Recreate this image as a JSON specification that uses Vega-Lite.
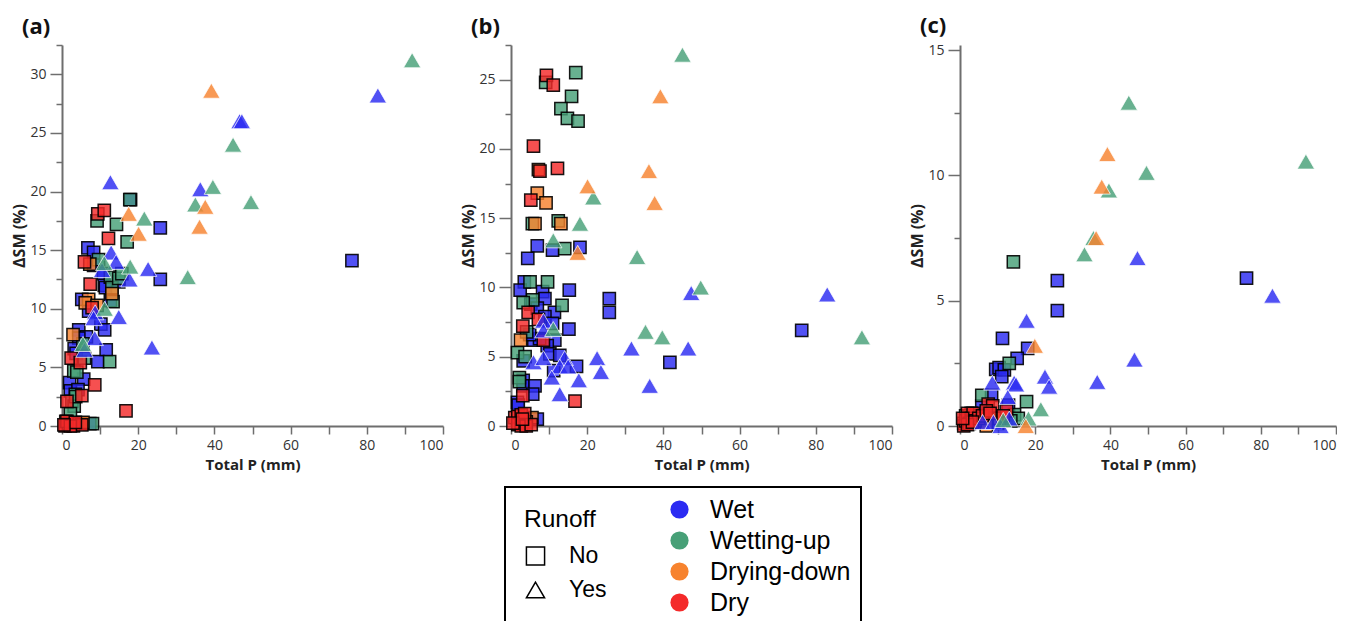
{
 "$schema": "https://vega.github.io/schema/vega-lite/v6.json",
 "padding": {"left": 11, "top": 15, "right": 0, "bottom": 0},
 "bounds": "flush",
 "spacing": 68,
 "datasets": {
  "a": [
   {"P":76.1,"SM":14.1,"R":"No","C":"Wet"},{"P":25.8,"SM":16.9,"R":"No","C":"Wet"},{"P":25.8,"SM":12.5,"R":"No","C":"Wet"},{"P":6.8,"SM":15.2,"R":"No","C":"Wet"},{"P":8.3,"SM":14.8,"R":"No","C":"Wet"},{"P":8.3,"SM":13.7,"R":"No","C":"Wet"},{"P":10.9,"SM":13.0,"R":"No","C":"Wet"},{"P":11.1,"SM":12.0,"R":"No","C":"Wet"},{"P":11.4,"SM":11.8,"R":"No","C":"Wet"},{"P":14.9,"SM":12.3,"R":"No","C":"Wet"},{"P":12.7,"SM":10.7,"R":"No","C":"Wet"},{"P":5.2,"SM":10.8,"R":"No","C":"Wet"},{"P":7.0,"SM":9.8,"R":"No","C":"Wet"},{"P":10.2,"SM":8.7,"R":"No","C":"Wet"},{"P":11.2,"SM":8.2,"R":"No","C":"Wet"},{"P":4.4,"SM":8.2,"R":"No","C":"Wet"},{"P":6.4,"SM":7.6,"R":"No","C":"Wet"},{"P":4.4,"SM":7.5,"R":"No","C":"Wet"},{"P":3.2,"SM":6.6,"R":"No","C":"Wet"},{"P":11.6,"SM":6.5,"R":"No","C":"Wet"},{"P":9.4,"SM":5.5,"R":"No","C":"Wet"},{"P":2.0,"SM":3.7,"R":"No","C":"Wet"},{"P":5.7,"SM":4.0,"R":"No","C":"Wet"},{"P":2.2,"SM":3.0,"R":"No","C":"Wet"},{"P":4.2,"SM":3.1,"R":"No","C":"Wet"},{"P":18.0,"SM":19.3,"R":"No","C":"Wet"},{"P":5.0,"SM":0.2,"R":"No","C":"Wet"},{"P":7.3,"SM":0.2,"R":"No","C":"Wet"},{"P":3.7,"SM":6.2,"R":"No","C":"Wet"},
   {"P":17.8,"SM":19.3,"R":"No","C":"Wetting-up"},{"P":9.2,"SM":17.5,"R":"No","C":"Wetting-up"},{"P":14.3,"SM":17.2,"R":"No","C":"Wetting-up"},{"P":17.1,"SM":15.7,"R":"No","C":"Wetting-up"},{"P":9.6,"SM":14.2,"R":"No","C":"Wetting-up"},{"P":12.7,"SM":12.7,"R":"No","C":"Wetting-up"},{"P":13.1,"SM":11.8,"R":"No","C":"Wetting-up"},{"P":14.9,"SM":12.6,"R":"No","C":"Wetting-up"},{"P":15.7,"SM":13.0,"R":"No","C":"Wetting-up"},{"P":13.4,"SM":10.6,"R":"No","C":"Wetting-up"},{"P":5.5,"SM":7.0,"R":"No","C":"Wetting-up"},{"P":5.9,"SM":5.8,"R":"No","C":"Wetting-up"},{"P":12.5,"SM":5.5,"R":"No","C":"Wetting-up"},{"P":3.1,"SM":4.7,"R":"No","C":"Wetting-up"},{"P":3.9,"SM":4.6,"R":"No","C":"Wetting-up"},{"P":3.5,"SM":2.7,"R":"No","C":"Wetting-up"},{"P":2.6,"SM":2.1,"R":"No","C":"Wetting-up"},{"P":3.2,"SM":1.7,"R":"No","C":"Wetting-up"},{"P":2.2,"SM":1.05,"R":"No","C":"Wetting-up"},{"P":8.0,"SM":0.2,"R":"No","C":"Wetting-up"},{"P":3.6,"SM":2.5,"R":"No","C":"Wetting-up"},
   {"P":7.3,"SM":13.8,"R":"No","C":"Drying-down"},{"P":13.1,"SM":11.3,"R":"No","C":"Drying-down"},{"P":7.0,"SM":10.8,"R":"No","C":"Drying-down"},{"P":6.1,"SM":10.5,"R":"No","C":"Drying-down"},{"P":9.2,"SM":10.3,"R":"No","C":"Drying-down"},{"P":2.9,"SM":7.8,"R":"No","C":"Drying-down"},{"P":1.0,"SM":0.4,"R":"No","C":"Drying-down"},{"P":2.0,"SM":0.2,"R":"No","C":"Drying-down"},{"P":5.5,"SM":0.3,"R":"No","C":"Drying-down"},
   {"P":9.4,"SM":18.1,"R":"No","C":"Dry"},{"P":11.1,"SM":18.4,"R":"No","C":"Dry"},{"P":12.2,"SM":16.0,"R":"No","C":"Dry"},{"P":5.9,"SM":14.0,"R":"No","C":"Dry"},{"P":7.4,"SM":12.1,"R":"No","C":"Dry"},{"P":7.9,"SM":10.1,"R":"No","C":"Dry"},{"P":2.4,"SM":5.8,"R":"No","C":"Dry"},{"P":4.8,"SM":5.4,"R":"No","C":"Dry"},{"P":8.6,"SM":3.5,"R":"No","C":"Dry"},{"P":5.2,"SM":2.6,"R":"No","C":"Dry"},{"P":1.3,"SM":2.1,"R":"No","C":"Dry"},{"P":16.8,"SM":1.3,"R":"No","C":"Dry"},{"P":0.8,"SM":0.0,"R":"No","C":"Dry"},{"P":1.7,"SM":0.2,"R":"No","C":"Dry"},{"P":2.9,"SM":0.2,"R":"No","C":"Dry"},{"P":3.0,"SM":0.0,"R":"No","C":"Dry"},{"P":5.2,"SM":0.1,"R":"No","C":"Dry"},{"P":1.3,"SM":0.4,"R":"No","C":"Dry"},{"P":2.2,"SM":0.0,"R":"No","C":"Dry"},{"P":3.5,"SM":0.3,"R":"No","C":"Dry"},{"P":0.5,"SM":0.1,"R":"No","C":"Dry"},
   {"P":82.9,"SM":28.2,"R":"Yes","C":"Wet"},{"P":46.6,"SM":26.0,"R":"Yes","C":"Wet"},{"P":47.2,"SM":26.0,"R":"Yes","C":"Wet"},{"P":12.7,"SM":20.8,"R":"Yes","C":"Wet"},{"P":36.3,"SM":20.2,"R":"Yes","C":"Wet"},{"P":12.9,"SM":14.8,"R":"Yes","C":"Wet"},{"P":14.2,"SM":14.0,"R":"Yes","C":"Wet"},{"P":10.5,"SM":13.3,"R":"Yes","C":"Wet"},{"P":22.6,"SM":13.4,"R":"Yes","C":"Wet"},{"P":17.7,"SM":12.5,"R":"Yes","C":"Wet"},{"P":8.7,"SM":9.7,"R":"Yes","C":"Wet"},{"P":8.3,"SM":9.2,"R":"Yes","C":"Wet"},{"P":14.9,"SM":9.3,"R":"Yes","C":"Wet"},{"P":8.6,"SM":7.5,"R":"Yes","C":"Wet"},{"P":23.6,"SM":6.7,"R":"Yes","C":"Wet"},{"P":5.9,"SM":6.5,"R":"Yes","C":"Wet"},
   {"P":91.9,"SM":31.2,"R":"Yes","C":"Wetting-up"},{"P":44.9,"SM":24.0,"R":"Yes","C":"Wetting-up"},{"P":39.6,"SM":20.4,"R":"Yes","C":"Wetting-up"},{"P":35.0,"SM":18.9,"R":"Yes","C":"Wetting-up"},{"P":49.6,"SM":19.1,"R":"Yes","C":"Wetting-up"},{"P":21.6,"SM":17.7,"R":"Yes","C":"Wetting-up"},{"P":11.1,"SM":13.9,"R":"Yes","C":"Wetting-up"},{"P":17.9,"SM":13.6,"R":"Yes","C":"Wetting-up"},{"P":33.0,"SM":12.7,"R":"Yes","C":"Wetting-up"},{"P":11.2,"SM":10.0,"R":"Yes","C":"Wetting-up"},{"P":5.5,"SM":7.0,"R":"Yes","C":"Wetting-up"},
   {"P":39.2,"SM":28.6,"R":"Yes","C":"Drying-down"},{"P":37.6,"SM":18.7,"R":"Yes","C":"Drying-down"},{"P":17.5,"SM":18.1,"R":"Yes","C":"Drying-down"},{"P":20.1,"SM":16.4,"R":"Yes","C":"Drying-down"},{"P":36.1,"SM":17.0,"R":"Yes","C":"Drying-down"}
  ],
  "b": [
   {"P":76.3,"SM":6.9,"R":"No","C":"Wet"},{"P":41.7,"SM":4.6,"R":"No","C":"Wet"},{"P":25.8,"SM":9.2,"R":"No","C":"Wet"},{"P":25.8,"SM":8.2,"R":"No","C":"Wet"},{"P":6.9,"SM":13.0,"R":"No","C":"Wet"},{"P":18.1,"SM":12.9,"R":"No","C":"Wet"},{"P":10.9,"SM":12.7,"R":"No","C":"Wet"},{"P":4.4,"SM":12.1,"R":"No","C":"Wet"},{"P":3.5,"SM":10.4,"R":"No","C":"Wet"},{"P":2.4,"SM":9.8,"R":"No","C":"Wet"},{"P":8.3,"SM":9.7,"R":"No","C":"Wet"},{"P":15.3,"SM":9.8,"R":"No","C":"Wet"},{"P":8.9,"SM":9.2,"R":"No","C":"Wet"},{"P":5.2,"SM":8.8,"R":"No","C":"Wet"},{"P":6.9,"SM":8.5,"R":"No","C":"Wet"},{"P":11.4,"SM":8.2,"R":"No","C":"Wet"},{"P":8.9,"SM":7.9,"R":"No","C":"Wet"},{"P":10.9,"SM":7.4,"R":"No","C":"Wet"},{"P":15.2,"SM":7.0,"R":"No","C":"Wet"},{"P":6.0,"SM":6.2,"R":"No","C":"Wet"},{"P":11.5,"SM":6.2,"R":"No","C":"Wet"},{"P":9.5,"SM":5.8,"R":"No","C":"Wet"},{"P":10.2,"SM":5.2,"R":"No","C":"Wet"},{"P":12.8,"SM":5.1,"R":"No","C":"Wet"},{"P":3.2,"SM":4.7,"R":"No","C":"Wet"},{"P":17.2,"SM":4.3,"R":"No","C":"Wet"},{"P":3.2,"SM":3.3,"R":"No","C":"Wet"},{"P":3.2,"SM":2.9,"R":"No","C":"Wet"},{"P":6.3,"SM":2.9,"R":"No","C":"Wet"},{"P":5.7,"SM":2.3,"R":"No","C":"Wet"},{"P":1.7,"SM":1.7,"R":"No","C":"Wet"},{"P":1.9,"SM":1.5,"R":"No","C":"Wet"},{"P":6.9,"SM":0.5,"R":"No","C":"Wet"},{"P":7.5,"SM":6.3,"R":"No","C":"Wet"},{"P":4.9,"SM":6.6,"R":"No","C":"Wet"},{"P":11.2,"SM":4.0,"R":"No","C":"Wet"},
   {"P":17.0,"SM":25.5,"R":"No","C":"Wetting-up"},{"P":9.1,"SM":24.8,"R":"No","C":"Wetting-up"},{"P":15.9,"SM":23.8,"R":"No","C":"Wetting-up"},{"P":13.1,"SM":22.9,"R":"No","C":"Wetting-up"},{"P":14.8,"SM":22.2,"R":"No","C":"Wetting-up"},{"P":17.6,"SM":22.0,"R":"No","C":"Wetting-up"},{"P":5.6,"SM":14.6,"R":"No","C":"Wetting-up"},{"P":12.4,"SM":14.8,"R":"No","C":"Wetting-up"},{"P":14.1,"SM":12.8,"R":"No","C":"Wetting-up"},{"P":5.0,"SM":10.4,"R":"No","C":"Wetting-up"},{"P":9.6,"SM":10.4,"R":"No","C":"Wetting-up"},{"P":5.7,"SM":9.1,"R":"No","C":"Wetting-up"},{"P":3.2,"SM":8.9,"R":"No","C":"Wetting-up"},{"P":13.4,"SM":8.7,"R":"No","C":"Wetting-up"},{"P":4.1,"SM":6.8,"R":"No","C":"Wetting-up"},{"P":1.7,"SM":5.3,"R":"No","C":"Wetting-up"},{"P":3.7,"SM":5.0,"R":"No","C":"Wetting-up"},{"P":2.2,"SM":3.5,"R":"No","C":"Wetting-up"},{"P":2.2,"SM":3.2,"R":"No","C":"Wetting-up"},
   {"P":7.2,"SM":18.5,"R":"No","C":"Drying-down"},{"P":6.9,"SM":16.8,"R":"No","C":"Drying-down"},{"P":9.2,"SM":16.1,"R":"No","C":"Drying-down"},{"P":6.3,"SM":14.6,"R":"No","C":"Drying-down"},{"P":13.1,"SM":14.6,"R":"No","C":"Drying-down"},{"P":2.5,"SM":6.2,"R":"No","C":"Drying-down"},{"P":5.5,"SM":0.6,"R":"No","C":"Drying-down"},{"P":4.0,"SM":0.3,"R":"No","C":"Drying-down"},
   {"P":9.3,"SM":25.3,"R":"No","C":"Dry"},{"P":11.1,"SM":24.6,"R":"No","C":"Dry"},{"P":5.9,"SM":20.2,"R":"No","C":"Dry"},{"P":7.6,"SM":18.4,"R":"No","C":"Dry"},{"P":12.2,"SM":18.6,"R":"No","C":"Dry"},{"P":5.2,"SM":16.3,"R":"No","C":"Dry"},{"P":4.5,"SM":8.2,"R":"No","C":"Dry"},{"P":7.2,"SM":7.7,"R":"No","C":"Dry"},{"P":3.1,"SM":7.2,"R":"No","C":"Dry"},{"P":8.5,"SM":6.2,"R":"No","C":"Dry"},{"P":3.1,"SM":2.2,"R":"No","C":"Dry"},{"P":16.8,"SM":1.8,"R":"No","C":"Dry"},{"P":1.0,"SM":0.6,"R":"No","C":"Dry"},{"P":1.8,"SM":0.7,"R":"No","C":"Dry"},{"P":2.7,"SM":0.8,"R":"No","C":"Dry"},{"P":3.6,"SM":0.9,"R":"No","C":"Dry"},{"P":1.8,"SM":0.1,"R":"No","C":"Dry"},{"P":2.7,"SM":0.0,"R":"No","C":"Dry"},{"P":4.0,"SM":0.0,"R":"No","C":"Dry"},{"P":5.3,"SM":0.1,"R":"No","C":"Dry"},{"P":0.5,"SM":0.2,"R":"No","C":"Dry"},{"P":3.0,"SM":0.5,"R":"No","C":"Dry"},
   {"P":47.3,"SM":9.6,"R":"Yes","C":"Wet"},{"P":83.0,"SM":9.5,"R":"Yes","C":"Wet"},{"P":31.6,"SM":5.6,"R":"Yes","C":"Wet"},{"P":46.5,"SM":5.6,"R":"Yes","C":"Wet"},{"P":22.6,"SM":4.9,"R":"Yes","C":"Wet"},{"P":23.6,"SM":3.9,"R":"Yes","C":"Wet"},{"P":36.4,"SM":2.9,"R":"Yes","C":"Wet"},{"P":8.5,"SM":7.6,"R":"Yes","C":"Wet"},{"P":8.5,"SM":6.9,"R":"Yes","C":"Wet"},{"P":5.9,"SM":4.6,"R":"Yes","C":"Wet"},{"P":8.5,"SM":4.9,"R":"Yes","C":"Wet"},{"P":14.1,"SM":4.9,"R":"Yes","C":"Wet"},{"P":12.8,"SM":4.3,"R":"Yes","C":"Wet"},{"P":15.0,"SM":4.3,"R":"Yes","C":"Wet"},{"P":10.7,"SM":3.5,"R":"Yes","C":"Wet"},{"P":17.8,"SM":3.3,"R":"Yes","C":"Wet"},{"P":12.8,"SM":2.3,"R":"Yes","C":"Wet"},
   {"P":45.0,"SM":26.8,"R":"Yes","C":"Wetting-up"},{"P":21.6,"SM":16.5,"R":"Yes","C":"Wetting-up"},{"P":18.1,"SM":14.6,"R":"Yes","C":"Wetting-up"},{"P":11.1,"SM":13.4,"R":"Yes","C":"Wetting-up"},{"P":33.1,"SM":12.2,"R":"Yes","C":"Wetting-up"},{"P":49.8,"SM":10.0,"R":"Yes","C":"Wetting-up"},{"P":35.3,"SM":6.8,"R":"Yes","C":"Wetting-up"},{"P":39.7,"SM":6.4,"R":"Yes","C":"Wetting-up"},{"P":92.1,"SM":6.4,"R":"Yes","C":"Wetting-up"},{"P":11.1,"SM":7.0,"R":"Yes","C":"Wetting-up"},
   {"P":39.2,"SM":23.8,"R":"Yes","C":"Drying-down"},{"P":36.2,"SM":18.4,"R":"Yes","C":"Drying-down"},{"P":20.1,"SM":17.3,"R":"Yes","C":"Drying-down"},{"P":37.7,"SM":16.1,"R":"Yes","C":"Drying-down"},{"P":17.5,"SM":12.5,"R":"Yes","C":"Drying-down"}
  ],
  "c": [
   {"P":76.2,"SM":5.9,"R":"No","C":"Wet"},{"P":25.9,"SM":5.8,"R":"No","C":"Wet"},{"P":25.9,"SM":4.6,"R":"No","C":"Wet"},{"P":11.3,"SM":3.5,"R":"No","C":"Wet"},{"P":18.0,"SM":3.1,"R":"No","C":"Wet"},{"P":15.2,"SM":2.7,"R":"No","C":"Wet"},{"P":9.5,"SM":2.26,"R":"No","C":"Wet"},{"P":10.4,"SM":2.33,"R":"No","C":"Wet"},{"P":11.8,"SM":2.24,"R":"No","C":"Wet"},{"P":11.1,"SM":1.97,"R":"No","C":"Wet"},{"P":8.4,"SM":1.22,"R":"No","C":"Wet"},{"P":5.8,"SM":0.8,"R":"No","C":"Wet"},{"P":12.9,"SM":0.83,"R":"No","C":"Wet"},{"P":7.0,"SM":0.3,"R":"No","C":"Wet"},{"P":10.0,"SM":0.1,"R":"No","C":"Wet"},
   {"P":14.2,"SM":6.55,"R":"No","C":"Wetting-up"},{"P":13.1,"SM":2.5,"R":"No","C":"Wetting-up"},{"P":5.8,"SM":1.22,"R":"No","C":"Wetting-up"},{"P":17.7,"SM":0.97,"R":"No","C":"Wetting-up"},{"P":3.0,"SM":0.5,"R":"No","C":"Wetting-up"},{"P":1.5,"SM":0.4,"R":"No","C":"Wetting-up"},{"P":14.5,"SM":0.45,"R":"No","C":"Wetting-up"},{"P":15.5,"SM":0.3,"R":"No","C":"Wetting-up"},{"P":9.5,"SM":0.3,"R":"No","C":"Wetting-up"},{"P":13.5,"SM":0.2,"R":"No","C":"Wetting-up"},{"P":5.0,"SM":0.4,"R":"No","C":"Wetting-up"},
   {"P":2.5,"SM":0.4,"R":"No","C":"Drying-down"},{"P":4.5,"SM":0.2,"R":"No","C":"Drying-down"},{"P":7.0,"SM":0.0,"R":"No","C":"Drying-down"},{"P":10.5,"SM":0.3,"R":"No","C":"Drying-down"},{"P":1.0,"SM":0.1,"R":"No","C":"Drying-down"},
   {"P":7.5,"SM":0.87,"R":"No","C":"Dry"},{"P":8.7,"SM":0.8,"R":"No","C":"Dry"},{"P":12.4,"SM":0.6,"R":"No","C":"Dry"},{"P":1.0,"SM":0.0,"R":"No","C":"Dry"},{"P":1.5,"SM":0.2,"R":"No","C":"Dry"},{"P":2.0,"SM":0.5,"R":"No","C":"Dry"},{"P":2.5,"SM":0.1,"R":"No","C":"Dry"},{"P":3.0,"SM":0.3,"R":"No","C":"Dry"},{"P":3.5,"SM":0.5,"R":"No","C":"Dry"},{"P":4.0,"SM":0.2,"R":"No","C":"Dry"},{"P":5.0,"SM":0.3,"R":"No","C":"Dry"},{"P":6.0,"SM":0.4,"R":"No","C":"Dry"},{"P":7.0,"SM":0.6,"R":"No","C":"Dry"},{"P":8.0,"SM":0.5,"R":"No","C":"Dry"},{"P":2.0,"SM":0.05,"R":"No","C":"Dry"},{"P":3.3,"SM":0.15,"R":"No","C":"Dry"},{"P":0.7,"SM":0.3,"R":"No","C":"Dry"},{"P":11.5,"SM":0.4,"R":"No","C":"Dry"},
   {"P":47.2,"SM":6.7,"R":"Yes","C":"Wet"},{"P":83.1,"SM":5.2,"R":"Yes","C":"Wet"},{"P":17.7,"SM":4.2,"R":"Yes","C":"Wet"},{"P":46.4,"SM":2.65,"R":"Yes","C":"Wet"},{"P":22.6,"SM":1.97,"R":"Yes","C":"Wet"},{"P":23.7,"SM":1.57,"R":"Yes","C":"Wet"},{"P":36.5,"SM":1.76,"R":"Yes","C":"Wet"},{"P":8.6,"SM":1.73,"R":"Yes","C":"Wet"},{"P":14.4,"SM":1.73,"R":"Yes","C":"Wet"},{"P":14.9,"SM":1.66,"R":"Yes","C":"Wet"},{"P":12.7,"SM":1.16,"R":"Yes","C":"Wet"},{"P":6.0,"SM":0.16,"R":"Yes","C":"Wet"},{"P":8.9,"SM":0.16,"R":"Yes","C":"Wet"},{"P":10.8,"SM":0.0,"R":"Yes","C":"Wet"},{"P":13.1,"SM":0.3,"R":"Yes","C":"Wet"},
   {"P":44.9,"SM":12.9,"R":"Yes","C":"Wetting-up"},{"P":92.0,"SM":10.55,"R":"Yes","C":"Wetting-up"},{"P":49.6,"SM":10.1,"R":"Yes","C":"Wetting-up"},{"P":39.6,"SM":9.4,"R":"Yes","C":"Wetting-up"},{"P":35.5,"SM":7.5,"R":"Yes","C":"Wetting-up"},{"P":33.1,"SM":6.85,"R":"Yes","C":"Wetting-up"},{"P":21.5,"SM":0.67,"R":"Yes","C":"Wetting-up"},{"P":18.2,"SM":0.3,"R":"Yes","C":"Wetting-up"},{"P":11.5,"SM":0.24,"R":"Yes","C":"Wetting-up"},
   {"P":39.2,"SM":10.85,"R":"Yes","C":"Drying-down"},{"P":37.7,"SM":9.55,"R":"Yes","C":"Drying-down"},{"P":36.2,"SM":7.5,"R":"Yes","C":"Drying-down"},{"P":19.9,"SM":3.2,"R":"Yes","C":"Drying-down"},{"P":17.5,"SM":0.0,"R":"Yes","C":"Drying-down"}
  ]
 },
 "config": {
  "view": {"stroke": null},
  "axis": {"grid": false, "domainColor": "#6e6e6e", "domainWidth": 2, "tickColor": "#6e6e6e", "tickWidth": 1.5, "labelFont": "Open Sans", "labelFontSize": 14, "labelColor": "#333333", "titleFont": "Open Sans", "titleFontSize": 16, "titleFontWeight": "bold", "titleColor": "#222222"},
  "axisX": {"tickSize": 8, "labelPadding": 4, "titlePadding": 5, "titleFontSize": 15},
  "axisY": {"labelPadding": 4, "titlePadding": 2},
  "title": {"fontSize": 22, "fontWeight": "bold", "font": "Open Sans", "color": "#111111", "anchor": "start", "frame": "group", "dx": -40, "offset": 5},
  "legend": {"strokeWidth": 2}
 },
 "hconcat": [
  {
   "title": "(a)",
   "width": 381, "height": 381,
   "data": {"name": "a"},
   "mark": {"type": "point", "filled": true, "fillOpacity": 0.82, "strokeOpacity": 0.9},
   "encoding": {
    "x": {"field": "P", "type": "quantitative", "scale": {"domain": [0, 100], "nice": false}, "axis": {"title": "Total P (mm)", "values": [0,10,20,30,40,50,60,70,80,90,100], "labelExpr": "datum.value % 20 === 0 ? datum.label : ''"}},
    "y": {"field": "SM", "type": "quantitative", "scale": {"domain": [0, 32.5], "nice": false}, "axis": {"title": "ΔSM (%)", "values": [0,2.5,5,7.5,10,12.5,15,17.5,20,22.5,25,27.5,30,32.5], "labelExpr": "datum.value % 5 === 0 ? datum.label : ''", "tickSize": {"condition": {"test": "datum.value % 5 === 0", "value": 12}, "value": 6}}},
    "color": {"field": "C", "type": "nominal", "scale": {"domain": ["Wet", "Wetting-up", "Drying-down", "Dry"], "range": ["#2b2bf2", "#47a077", "#f7832e", "#f42a2a"]},
     "legend": {"title": null, "orient": "none", "legendX": 443, "legendY": 442, "strokeColor": "black", "padding": 10, "symbolType": "circle", "symbolSize": 330, "symbolOffset": 152, "labelOffset": 18, "labelFontSize": 25, "labelFont": "Liberation Sans", "labelColor": "black", "rowPadding": 5, "symbolStrokeColor": "transparent", "symbolStrokeWidth": 0, "symbolOpacity": 1}},
    "shape": {"field": "R", "type": "nominal", "scale": {"domain": ["No", "Yes"], "range": ["square", "triangle-up"]},
     "legend": {"title": "Runoff", "orient": "none", "legendX": 462, "legendY": 463, "titleFont": "Liberation Sans", "titleFontSize": 24.5, "titleFontWeight": "normal", "titleColor": "black", "titlePadding": 12, "labelFont": "Liberation Sans", "labelFontSize": 23, "labelColor": "black", "labelOffset": 22, "symbolSize": 330, "rowPadding": 10, "symbolFillColor": "transparent", "symbolStrokeColor": "black", "symbolStrokeWidth": 1.5, "symbolOpacity": 1}},
    "size": {"condition": {"test": "datum.R === 'Yes'", "value": 300}, "value": 150},
    "stroke": {"condition": {"test": "datum.R === 'Yes'", "value": "white"}, "value": "black"},
    "strokeWidth": {"condition": {"test": "datum.R === 'Yes'", "value": 0.8}, "value": 1.5}
   }
  },
  {
   "title": "(b)",
   "width": 381, "height": 381,
   "data": {"name": "b"},
   "mark": {"type": "point", "filled": true, "fillOpacity": 0.82, "strokeOpacity": 0.9},
   "encoding": {
    "x": {"field": "P", "type": "quantitative", "scale": {"domain": [0, 100], "nice": false}, "axis": {"title": "Total P (mm)", "values": [0,10,20,30,40,50,60,70,80,90,100], "labelExpr": "datum.value % 20 === 0 ? datum.label : ''"}},
    "y": {"field": "SM", "type": "quantitative", "scale": {"domain": [0, 27.5], "nice": false}, "axis": {"title": "ΔSM (%)", "values": [0,2.5,5,7.5,10,12.5,15,17.5,20,22.5,25,27.5], "labelExpr": "datum.value % 5 === 0 ? datum.label : ''", "tickSize": {"condition": {"test": "datum.value % 5 === 0", "value": 12}, "value": 6}}},
    "color": {"field": "C", "type": "nominal", "scale": {"domain": ["Wet", "Wetting-up", "Drying-down", "Dry"], "range": ["#2b2bf2", "#47a077", "#f7832e", "#f42a2a"]},
     "legend": {"title": null, "orient": "none", "legendX": 443, "legendY": 442, "strokeColor": "black", "padding": 10, "symbolType": "circle", "symbolSize": 330, "symbolOffset": 152, "labelOffset": 18, "labelFontSize": 25, "labelFont": "Liberation Sans", "labelColor": "black", "rowPadding": 5, "symbolStrokeColor": "transparent", "symbolStrokeWidth": 0, "symbolOpacity": 1}},
    "shape": {"field": "R", "type": "nominal", "scale": {"domain": ["No", "Yes"], "range": ["square", "triangle-up"]},
     "legend": {"title": "Runoff", "orient": "none", "legendX": 462, "legendY": 463, "titleFont": "Liberation Sans", "titleFontSize": 24.5, "titleFontWeight": "normal", "titleColor": "black", "titlePadding": 12, "labelFont": "Liberation Sans", "labelFontSize": 23, "labelColor": "black", "labelOffset": 22, "symbolSize": 330, "rowPadding": 10, "symbolFillColor": "transparent", "symbolStrokeColor": "black", "symbolStrokeWidth": 1.5, "symbolOpacity": 1}},
    "size": {"condition": {"test": "datum.R === 'Yes'", "value": 300}, "value": 150},
    "stroke": {"condition": {"test": "datum.R === 'Yes'", "value": "white"}, "value": "black"},
    "strokeWidth": {"condition": {"test": "datum.R === 'Yes'", "value": 0.8}, "value": 1.5}
   }
  },
  {
   "title": "(c)",
   "width": 376, "height": 381,
   "data": {"name": "c"},
   "mark": {"type": "point", "filled": true, "fillOpacity": 0.82, "strokeOpacity": 0.9},
   "encoding": {
    "x": {"field": "P", "type": "quantitative", "scale": {"domain": [0, 100], "nice": false}, "axis": {"title": "Total P (mm)", "values": [0,10,20,30,40,50,60,70,80,90,100], "labelExpr": "datum.value % 20 === 0 ? datum.label : ''"}},
    "y": {"field": "SM", "type": "quantitative", "scale": {"domain": [0, 15.2], "nice": false}, "axis": {"title": "ΔSM (%)", "values": [0,2.5,5,7.5,10,12.5,15], "labelExpr": "datum.value % 5 === 0 ? datum.label : ''", "tickSize": {"condition": {"test": "datum.value % 5 === 0", "value": 12}, "value": 6}}},
    "color": {"field": "C", "type": "nominal", "scale": {"domain": ["Wet", "Wetting-up", "Drying-down", "Dry"], "range": ["#2b2bf2", "#47a077", "#f7832e", "#f42a2a"]},
     "legend": {"title": null, "orient": "none", "legendX": 443, "legendY": 442, "strokeColor": "black", "padding": 10, "symbolType": "circle", "symbolSize": 330, "symbolOffset": 152, "labelOffset": 18, "labelFontSize": 25, "labelFont": "Liberation Sans", "labelColor": "black", "rowPadding": 5, "symbolStrokeColor": "transparent", "symbolStrokeWidth": 0, "symbolOpacity": 1}},
    "shape": {"field": "R", "type": "nominal", "scale": {"domain": ["No", "Yes"], "range": ["square", "triangle-up"]},
     "legend": {"title": "Runoff", "orient": "none", "legendX": 462, "legendY": 463, "titleFont": "Liberation Sans", "titleFontSize": 24.5, "titleFontWeight": "normal", "titleColor": "black", "titlePadding": 12, "labelFont": "Liberation Sans", "labelFontSize": 23, "labelColor": "black", "labelOffset": 22, "symbolSize": 330, "rowPadding": 10, "symbolFillColor": "transparent", "symbolStrokeColor": "black", "symbolStrokeWidth": 1.5, "symbolOpacity": 1}},
    "size": {"condition": {"test": "datum.R === 'Yes'", "value": 300}, "value": 150},
    "stroke": {"condition": {"test": "datum.R === 'Yes'", "value": "white"}, "value": "black"},
    "strokeWidth": {"condition": {"test": "datum.R === 'Yes'", "value": 0.8}, "value": 1.5}
   }
  }
 ]
}
